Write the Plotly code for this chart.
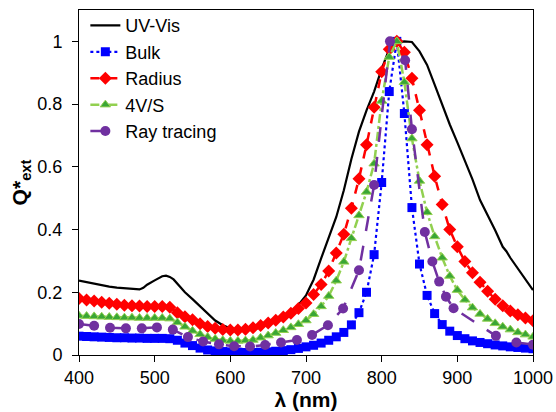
import plotly.graph_objects as go

# wavelength grid (nm) for Bulk / Radius / 4V/S
wl = list(range(400, 1001, 10))

bulk = [0.060, 0.059, 0.058, 0.057, 0.056, 0.055, 0.055, 0.054, 0.054, 0.053,
        0.053, 0.053, 0.052, 0.047, 0.038, 0.030, 0.022, 0.016, 0.013, 0.011,
        0.010, 0.009, 0.008, 0.008, 0.009, 0.010, 0.012, 0.014, 0.017, 0.021,
        0.026, 0.031, 0.038, 0.047, 0.058, 0.072, 0.096, 0.135, 0.200, 0.320,
        0.550, 0.840, 1.000, 0.770, 0.470, 0.290, 0.190, 0.132, 0.097, 0.076,
        0.062, 0.052, 0.045, 0.040, 0.036, 0.032, 0.029, 0.026, 0.024, 0.022,
        0.020]

radius = [0.180, 0.175, 0.172, 0.168, 0.165, 0.162, 0.159, 0.157, 0.156, 0.155,
          0.155, 0.155, 0.152, 0.135, 0.122, 0.112, 0.100, 0.091, 0.085, 0.081,
          0.080, 0.080, 0.082, 0.087, 0.094, 0.102, 0.111, 0.121, 0.133, 0.148,
          0.166, 0.193, 0.225, 0.268, 0.325, 0.385, 0.468, 0.562, 0.670, 0.790,
          0.903, 0.975, 1.000, 0.965, 0.882, 0.780, 0.670, 0.570, 0.480, 0.400,
          0.345, 0.298, 0.262, 0.232, 0.203, 0.178, 0.157, 0.140, 0.128, 0.118,
          0.109]

fourvs = [0.125, 0.124, 0.123, 0.122, 0.121, 0.120, 0.119, 0.119, 0.118, 0.118,
          0.118, 0.118, 0.116, 0.104, 0.090, 0.077, 0.066, 0.057, 0.051, 0.047,
          0.045, 0.045, 0.046, 0.048, 0.055, 0.062, 0.070, 0.079, 0.088, 0.098,
          0.110, 0.130, 0.155, 0.188, 0.237, 0.297, 0.372, 0.445, 0.520, 0.610,
          0.810, 0.950, 1.000, 0.870, 0.690, 0.555, 0.455, 0.378, 0.310, 0.252,
          0.207, 0.176, 0.151, 0.131, 0.115, 0.101, 0.090, 0.081, 0.072, 0.065,
          0.058]

ray_wl = [400, 420, 441, 462, 483, 503, 524, 544, 564, 585, 605, 626, 646, 667,
          688, 708, 729, 749, 770, 790, 811, 831, 840, 857, 867, 876, 885, 895,
          951, 978, 1000]
ray = [0.099, 0.093, 0.087, 0.085, 0.085, 0.088, 0.081, 0.057, 0.043, 0.034,
       0.028, 0.027, 0.032, 0.040, 0.048, 0.064, 0.095, 0.148, 0.270, 0.542,
       1.000, 0.940, 0.720, 0.392, 0.298, 0.234, 0.186, 0.149, 0.061, 0.040,
       0.033]

uv_wl = [400, 410, 420, 430, 440, 450, 460, 470, 480, 485, 490, 500, 505, 510,
         515, 520, 525, 530, 535, 540, 550, 560, 570, 580, 590, 600, 610, 620,
         630, 640, 650, 660, 670, 680, 690, 700, 705, 710, 720, 730, 740, 750,
         760, 770, 780, 790, 800, 810, 820, 830, 840, 850, 860, 870, 880, 890,
         900, 910, 920, 930, 940, 950, 960, 965, 970, 980, 990, 1000]
uv = [0.237, 0.232, 0.227, 0.222, 0.218, 0.215, 0.213, 0.211, 0.209, 0.214,
      0.224, 0.238, 0.245, 0.251, 0.253, 0.249, 0.241, 0.227, 0.213, 0.200,
      0.178, 0.155, 0.130, 0.110, 0.095, 0.085, 0.080, 0.079, 0.082, 0.088,
      0.097, 0.107, 0.120, 0.138, 0.160, 0.190, 0.215, 0.240, 0.308, 0.375,
      0.440, 0.525, 0.625, 0.712, 0.780, 0.840, 0.912, 0.975, 0.997, 1.000,
      0.998, 0.968, 0.925, 0.862, 0.798, 0.735, 0.678, 0.622, 0.560, 0.494,
      0.448, 0.398, 0.345, 0.330, 0.310, 0.275, 0.238, 0.207]

x_ticks = [400, 500, 600, 700, 800, 900, 1000]
y_ticks = [0, 0.2, 0.4, 0.6, 0.8, 1]
y_tick_text = ["0", "0.2", "0.4", "0.6", "0.8", "1"]

FONT = "Liberation Sans, Arial, sans-serif"

fig = go.Figure()
fig.add_trace(go.Scatter(x=uv_wl, y=uv, name="UV-Vis", mode="lines",
                         line=dict(color="#000000", width=2.2)))
fig.add_trace(go.Scatter(x=wl, y=bulk, name="Bulk", mode="lines+markers",
                         line=dict(color="#0000FF", width=2.2, dash="dot"),
                         marker=dict(symbol="square", size=9, color="#0000FF")))
fig.add_trace(go.Scatter(x=wl, y=radius, name="Radius", mode="lines+markers",
                         line=dict(color="#FF0000", width=2.5, dash="dash"),
                         marker=dict(symbol="diamond", size=10, color="#FF0000")))
fig.add_trace(go.Scatter(x=wl, y=fourvs, name="4V/S", mode="lines+markers",
                         line=dict(color="#92D050", width=2.5, dash="dashdot"),
                         marker=dict(symbol="triangle-up", size=9, color="#3AA635",
                                     line=dict(color="#92D050", width=1))))
fig.add_trace(go.Scatter(x=ray_wl, y=ray, name="Ray tracing", mode="lines+markers",
                         line=dict(color="#7030A0", width=2.5, dash="longdash"),
                         marker=dict(symbol="circle", size=10, color="#7030A0")))

fig.update_layout(
    width=556, height=412,
    margin=dict(l=79, r=23, t=10, b=57, autoexpand=False),
    paper_bgcolor="white", plot_bgcolor="white",
    font=dict(family=FONT, color="#000000", size=18),
    showlegend=True,
    legend=dict(x=0.014, y=1.008, xanchor="left", yanchor="top",
                bgcolor="rgba(255,255,255,0)", font=dict(size=18, family=FONT),
                itemwidth=30, tracegroupgap=0),
    xaxis=dict(range=[400, 1000], tickvals=x_ticks, ticks="outside", ticklen=6,
               tickcolor="#000", showline=True, linecolor="#000", linewidth=1,
               mirror=True, showgrid=False, zeroline=False,
               tickfont=dict(size=18, family=FONT),
               title=dict(text="<b>λ (nm)</b>", font=dict(size=21, family=FONT), standoff=2)),
    yaxis=dict(range=[0, 1.1], tickvals=y_ticks, ticktext=y_tick_text,
               ticks="outside", ticklen=6, tickcolor="#000", showline=True,
               linecolor="#000", linewidth=1, mirror=True, showgrid=False,
               zeroline=False, tickfont=dict(size=18, family=FONT),
               ticklabelstandoff=6,
               title=dict(text="<b>Q*<sub>ext</sub></b>", font=dict(size=21, family=FONT), standoff=4)),
)

fig.write_html("out.html", config={"displayModeBar": False},
               post_script="document.body.style.margin='0';document.body.style.overflow='hidden';")
